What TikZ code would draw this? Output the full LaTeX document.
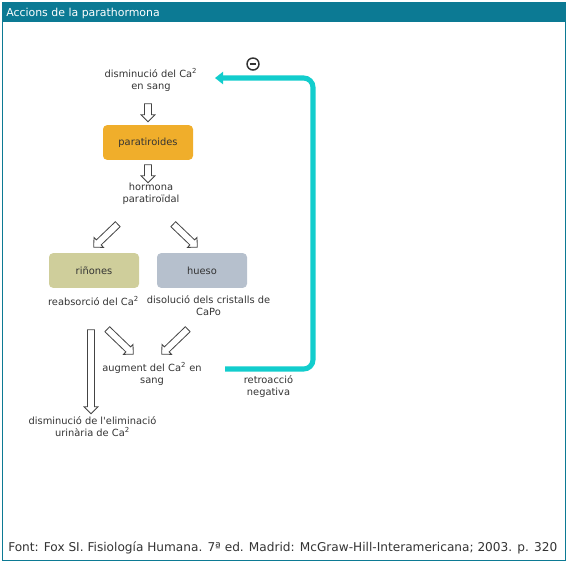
\documentclass[tikz,border=0pt]{standalone}
\usepackage{fontspec}
\setmainfont{DejaVu Sans}
\usetikzlibrary{arrows.meta,calc,shapes.arrows}

\definecolor{frameteal}{HTML}{0C7A94}
\definecolor{loopcyan}{HTML}{12CDCD}
\definecolor{paratcol}{HTML}{F0AE2B}
\definecolor{rincol}{HTML}{CFCE9B}
\definecolor{huesocol}{HTML}{B6C0CD}
\definecolor{textgray}{HTML}{333333}
\definecolor{arrowgray}{HTML}{444444}

\tikzset{
  lbl/.style={align=center, text=textgray, inner sep=0pt,
    font=\fontsize{7.4}{9}\selectfont},
  organ/.style={rounded corners=3pt, minimum width=67.5pt, minimum height=26pt,
    text=textgray, font=\fontsize{7.4}{9}\selectfont},
  hollow/.style={to path={
    let \p1=($(\tikztotarget)-(\tikztostart)$), \n1={veclen(\x1,\y1)} in
    (\tikztostart) -- (\tikztotarget)
    node[midway, sloped, allow upside down, single arrow, draw=arrowgray,
      fill=white, line width=0.6pt, text height=0pt, text depth=0pt,
      inner xsep=0pt, inner ysep=2.3pt, single arrow head extend=2.6pt,
      minimum height=\n1] {}
  }},
  feedback/.style={loopcyan, line width=3.8pt, rounded corners=7pt,
    -{Triangle[length=6pt,width=9pt]}},
}

\begin{document}
\begin{tikzpicture}[x=0.75pt, y=-0.75pt]
    \useasboundingbox (0,0) rectangle (568,562);
    % frame and title bar
    \draw[frameteal, line width=0.9pt] (2.5,3) rectangle (565.5,560.5);
    \fill[frameteal] (2,3) rectangle (566,22);
    \node[anchor=west, text=white, inner sep=0pt, font=\fontsize{8.2}{10}\selectfont]
        (title) at (6,13) {Accions de la parathormona};

    % chain
    \node[lbl] (dism) at (151,80) {disminució del Ca\textsuperscript{2}\\en sang};
    \node[organ, fill=paratcol] (parat) at (148,142.5) {paratiroides};
    \node[lbl] (horm) at (151,194) {hormona\\paratiroïdal};
    \node[organ, fill=rincol] (rin) at (94,270.5) {riñones};
    \node[organ, fill=huesocol] (hueso) at (202,270.5) {hueso};
    \node[lbl] (reabs) at (93.5,301) {reabsorció del Ca\textsuperscript{2}};
    \node[lbl] (disol) at (208.5,306) {disolució dels cristalls de\\CaPo};
    \node[lbl] (augm) at (152,374) {augment del Ca\textsuperscript{2} en\\sang};
    \node[lbl] (elim) at (92.5,427) {disminució de l\textquotesingle eliminació\\urinària de Ca\textsuperscript{2}};
    \node[lbl] (retro) at (268.5,387) {retroacció\\negativa};

    % hollow arrows
    \coordinate (k1) at (148,102);  \coordinate (k2) at (148,120);
    \coordinate (k3) at (148,163);  \coordinate (k4) at (148,181);
    \coordinate (k5) at (119,223);  \coordinate (k6) at (95,246);
    \coordinate (k7) at (172,223);  \coordinate (k8) at (196,246);
    \coordinate (k9) at (106,328);  \coordinate (k10) at (132,353);
    \coordinate (k11) at (189,328); \coordinate (k12) at (163,353);
    \coordinate (k13) at (91,328);  \coordinate (k14) at (91,412);
    \path[hollow] (k1) to (k2);
    \path[hollow] (k3) to (k4);
    \path[hollow] (k5) to (k6);
    \path[hollow] (k7) to (k8);
    \path[hollow] (k9) to (k10);
    \path[hollow] (k11) to (k12);
    \path[hollow] (k13) to (k14);

    % negative feedback
    \coordinate (fbstart) at (225,369);
    \coordinate (fbtop) at (313,78);
    \coordinate (fbend) at (215,78);
    \draw[feedback] (fbstart) -| (fbtop) -- (fbend);
    \node[draw=textgray, circle, line width=1.1pt, minimum size=9pt, inner sep=0pt]
        (neg) at (253,64) {};
    \draw[textgray, line width=1.4pt] ([xshift=-2.4pt]neg.center) -- ([xshift=2.4pt]neg.center);

    % source
    \node[anchor=west, text=textgray, inner sep=0pt, font=\fontsize{9.1}{11}\selectfont]
        (src) at (8,548) {Font: Fox SI. Fisiología Humana. 7ª ed. Madrid: McGraw-Hill-Interamericana; 2003. p. 320};
\end{tikzpicture}
\end{document}
